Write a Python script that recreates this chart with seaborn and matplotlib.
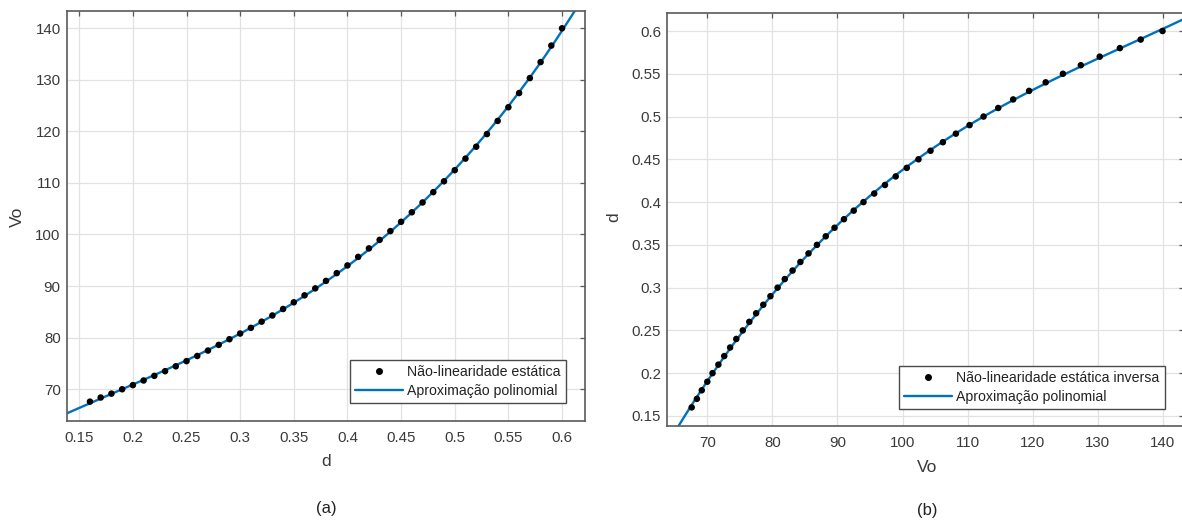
import numpy as np
import pandas as pd
import seaborn as sns
import matplotlib
matplotlib.use("Agg")
import matplotlib.pyplot as plt
from matplotlib.lines import Line2D

# Static non-linearity of the converter: duty cycle d -> output voltage Vo
duty_cycle = [0.16, 0.17, 0.18, 0.19, 0.20, 0.21, 0.22, 0.23, 0.24, 0.25,
              0.26, 0.27, 0.28, 0.29, 0.30, 0.31, 0.32, 0.33, 0.34, 0.35,
              0.36, 0.37, 0.38, 0.39, 0.40, 0.41, 0.42, 0.43, 0.44, 0.45,
              0.46, 0.47, 0.48, 0.49, 0.50, 0.51, 0.52, 0.53, 0.54, 0.55,
              0.56, 0.57, 0.58, 0.59, 0.60]
output_voltage = [67.6, 68.4, 69.15, 70.0, 70.8, 71.7, 72.6, 73.5, 74.45, 75.45,
                  76.45, 77.5, 78.6, 79.7, 80.8, 81.9, 83.1, 84.3, 85.55, 86.85,
                  88.2, 89.55, 91.0, 92.5, 94.0, 95.65, 97.3, 98.95, 100.65, 102.45,
                  104.3, 106.2, 108.2, 110.3, 112.45, 114.7, 117.0, 119.45, 122.0, 124.65,
                  127.4, 130.3, 133.4, 136.6, 139.95]

d_ticks = [0.15, 0.2, 0.25, 0.3, 0.35, 0.4, 0.45, 0.5, 0.55, 0.6]
d_ticklabels = ["0.15", "0.2", "0.25", "0.3", "0.35", "0.4", "0.45", "0.5", "0.55", "0.6"]
vo_ticks_a = [70, 80, 90, 100, 110, 120, 130, 140]
vo_ticks_b = [70, 80, 90, 100, 110, 120, 130, 140]

d_lim = (0.1386, 0.6214)
vo_lim = (63.85, 143.3)

POLY_DEGREE = 3

data = pd.DataFrame({"d": duty_cycle, "Vo": output_voltage})

sns.set_theme(style="whitegrid")
plt.rcParams["font.family"] = ["Liberation Sans", "DejaVu Sans"]

W, H = 1182, 520
fig = plt.figure(figsize=(W / 100, H / 100), dpi=100)
fig.patch.set_facecolor("white")


def px_axes(left, top, right, bottom):
    return fig.add_axes([left / W, 1 - bottom / H, (right - left) / W, (bottom - top) / H])


ax_a = px_axes(67, 11, 585, 421)
ax_b = px_axes(667.3, 12.7, 1184.3, 425.7)

LINE_BLUE = "#0072BD"
TEXT_COL = "#3a3a3a"
SPINE_COL = "#5a5a5a"
GRID_COL = "#e2e2e2"


def polyfit_curve(x, y, lo, hi):
    coefs = np.polyfit(x, y, POLY_DEGREE)
    xs = np.linspace(lo, hi, 400)
    return pd.DataFrame({"x": xs, "y": np.polyval(coefs, xs)})


def style_axes(ax):
    ax.set_facecolor("white")
    ax.grid(True, color=GRID_COL, linewidth=0.9)
    for sp in ax.spines.values():
        sp.set_visible(True)
        sp.set_color(SPINE_COL)
        sp.set_linewidth(1.2)
    ax.tick_params(direction="in", length=3.5, width=0.9, colors=SPINE_COL,
                   labelcolor=TEXT_COL, labelsize=10.8, top=True, right=True)
    ax.tick_params(axis="x", pad=7.5)
    ax.tick_params(axis="y", pad=4.5)
    ax.set_axisbelow(True)


def add_legend(ax, point_label, right_px, bottom_px):
    handles = [
        Line2D([], [], linestyle="none", marker="o", markersize=4,
               color="black"),
        Line2D([], [], color=LINE_BLUE, linewidth=1.7),
    ]
    bb = ax.get_position()
    ax_w = bb.width * W
    ax_h = bb.height * H
    leg = ax.legend(handles, [point_label, "Aproximação polinomial"],
                    loc="lower right",
                    bbox_to_anchor=(1 - right_px / ax_w, bottom_px / ax_h),
                    frameon=True, fancybox=False, framealpha=1,
                    edgecolor="#4a4a4a", fontsize=10.2, handlelength=3.4,
                    handletextpad=0.3, borderpad=0.35, labelspacing=0.35,
                    borderaxespad=0)
    leg.get_frame().set_linewidth(1.0)
    for t in leg.get_texts():
        t.set_color("#222222")


# (a) Vo as a function of d
curve_a = polyfit_curve(data["d"], data["Vo"], d_lim[0], d_lim[1])
sns.lineplot(data=curve_a, x="x", y="y", ax=ax_a, color=LINE_BLUE,
             linewidth=1.7, zorder=2)
sns.scatterplot(data=data, x="d", y="Vo", ax=ax_a, color="black", s=22,
                edgecolor="none", zorder=3)
style_axes(ax_a)
ax_a.set_xlim(*d_lim)
ax_a.set_ylim(*vo_lim)
ax_a.set_xticks(d_ticks)
ax_a.set_xticklabels(d_ticklabels)
ax_a.set_yticks(vo_ticks_a)
ax_a.set_xlabel("d", fontsize=12.5, color=TEXT_COL, va="center")
ax_a.set_ylabel("Vo", fontsize=12.5, color=TEXT_COL, va="center")
ax_a.xaxis.set_label_coords((326 - 67) / 518, (421 - 461) / 410)
ax_a.yaxis.set_label_coords((17.5 - 67) / 518, (421 - 216.7) / 410)
add_legend(ax_a, "Não-linearidade estática", 19.3, 17.7)

# (b) inverse map: d as a function of Vo
curve_b = polyfit_curve(data["Vo"], data["d"], vo_lim[0], vo_lim[1])
sns.lineplot(data=curve_b, x="x", y="y", ax=ax_b, color=LINE_BLUE,
             linewidth=1.7, zorder=2)
sns.scatterplot(data=data, x="Vo", y="d", ax=ax_b, color="black", s=22,
                edgecolor="none", zorder=3)
style_axes(ax_b)
ax_b.set_xlim(*vo_lim)
ax_b.set_ylim(*d_lim)
ax_b.set_xticks(vo_ticks_b)
ax_b.set_yticks(d_ticks)
ax_b.set_yticklabels(d_ticklabels)
ax_b.set_xlabel("Vo", fontsize=12.5, color=TEXT_COL, va="center")
ax_b.set_ylabel("d", fontsize=12.5, color=TEXT_COL, va="center")
ax_b.xaxis.set_label_coords((927 - 667.3) / 517, (425.7 - 467) / 413)
ax_b.yaxis.set_label_coords((614 - 667.3) / 517, (425.7 - 216.7) / 413)
add_legend(ax_b, "Não-linearidade estática inversa", 19.6, 16.4)

# Panel captions
fig.text(326 / W, 1 - 508 / H, "(a)", ha="center", va="center",
         fontsize=12, color="#222222")
fig.text(927 / W, 1 - 510 / H, "(b)", ha="center", va="center",
         fontsize=12, color="#222222")

fig.savefig("out.png", dpi=100, facecolor="white")
